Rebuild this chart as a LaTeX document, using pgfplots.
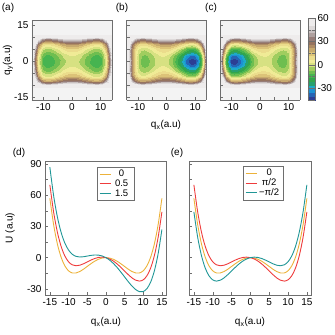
\documentclass[border=0pt]{standalone}
\usepackage{fontspec}
\setmainfont{Liberation Sans}
\usepackage{pgfplots}
\pgfplotsset{compat=1.18}
\usepackage{pgfplotstable}
\definecolor{cOr}{RGB}{236,178,58}
\definecolor{cRd}{RGB}{238,60,60}
\definecolor{cTl}{RGB}{32,150,150}
\definecolor{cFr}{RGB}{110,110,110}
\definecolor{cBg}{RGB}{243,243,243}
\pgfplotsset{colormap={pot}{
rgb255=(44,62,148)
rgb255=(38,100,180)
rgb255=(28,145,210)
rgb255=(30,170,200)
rgb255=(40,160,110)
rgb255=(50,165,75)
rgb255=(70,180,80)
rgb255=(110,190,80)
rgb255=(160,205,95)
rgb255=(215,225,130)
rgb255=(240,235,150)
rgb255=(235,220,140)
rgb255=(220,195,120)
rgb255=(200,170,110)
rgb255=(175,140,100)
rgb255=(150,115,95)
rgb255=(150,125,120)
rgb255=(175,160,158)
rgb255=(200,192,192)
rgb255=(222,218,218)
rgb255=(238,236,236)
rgb255=(238,236,236)
}}
% panel (a): x = 0..14, y = 0..11 (mirrored in x and y)
\pgfplotstableread[row sep=\\]{
x y z\\
0 0 0\\ 1 0 -0.4\\ 2 0 -1.6\\ 3 0 -3.5\\ 4 0 -5.9\\ 5 0 -8.5\\ 6 0 -11.2\\ 7 0 -13.4\\ 8 0 -14.8\\ 9 0 -14.8\\ 10 0 -12.7\\ 11 0 -6.5\\ 12 0 5\\ 13 0 30\\ 14 0 65\\
0 1 0.5\\ 1 1 0.1\\ 2 1 -1.1\\ 3 1 -3\\ 4 1 -5.4\\ 5 1 -8\\ 6 1 -10.7\\ 7 1 -12.9\\ 8 1 -14.3\\ 9 1 -14.3\\ 10 1 -12.2\\ 11 1 -6\\ 12 1 5.5\\ 13 1 30.5\\ 14 1 65.5\\
0 2 2\\ 1 2 1.6\\ 2 2 0.4\\ 3 2 -1.5\\ 4 2 -3.9\\ 5 2 -6.5\\ 6 2 -9.2\\ 7 2 -11.4\\ 8 2 -12.8\\ 9 2 -12.8\\ 10 2 -10.7\\ 11 2 -4.5\\ 12 2 7\\ 13 2 32\\ 14 2 67\\
0 3 4.3\\ 1 3 3.9\\ 2 3 2.7\\ 3 3 0.8\\ 4 3 -1.6\\ 5 3 -4.2\\ 6 3 -6.9\\ 7 3 -9.1\\ 8 3 -10.5\\ 9 3 -10.5\\ 10 3 -8.4\\ 11 3 -2.2\\ 12 3 9.3\\ 13 3 34.3\\ 14 3 69.3\\
0 4 7.5\\ 1 4 7.1\\ 2 4 5.9\\ 3 4 4\\ 4 4 1.6\\ 5 4 -1\\ 6 4 -3.7\\ 7 4 -5.9\\ 8 4 -7.3\\ 9 4 -7.3\\ 10 4 -5.2\\ 11 4 1\\ 12 4 12.5\\ 13 4 37.5\\ 14 4 72.5\\
0 5 11.5\\ 1 5 11.1\\ 2 5 9.9\\ 3 5 8\\ 4 5 5.6\\ 5 5 3\\ 6 5 0.3\\ 7 5 -1.9\\ 8 5 -3.3\\ 9 5 -3.3\\ 10 5 -1.2\\ 11 5 5\\ 12 5 16.5\\ 13 5 41.5\\ 14 5 76.5\\
0 6 16.5\\ 1 6 16.1\\ 2 6 14.9\\ 3 6 13\\ 4 6 10.6\\ 5 6 8\\ 6 6 5.3\\ 7 6 3.1\\ 8 6 1.7\\ 9 6 1.7\\ 10 6 3.8\\ 11 6 10\\ 12 6 21.5\\ 13 6 46.5\\ 14 6 81.5\\
0 7 24\\ 1 7 23.6\\ 2 7 22.4\\ 3 7 20.5\\ 4 7 18.1\\ 5 7 15.5\\ 6 7 12.8\\ 7 7 10.6\\ 8 7 9.2\\ 9 7 9.2\\ 10 7 11.3\\ 11 7 17.5\\ 12 7 29\\ 13 7 54\\ 14 7 89\\
0 8 35\\ 1 8 34.6\\ 2 8 33.4\\ 3 8 31.5\\ 4 8 29.1\\ 5 8 26.5\\ 6 8 23.8\\ 7 8 21.6\\ 8 8 20.2\\ 9 8 20.2\\ 10 8 22.3\\ 11 8 28.5\\ 12 8 40\\ 13 8 65\\ 14 8 100\\
0 9 50\\ 1 9 49.6\\ 2 9 48.4\\ 3 9 46.5\\ 4 9 44.1\\ 5 9 41.5\\ 6 9 38.8\\ 7 9 36.6\\ 8 9 35.2\\ 9 9 35.2\\ 10 9 37.3\\ 11 9 43.5\\ 12 9 55\\ 13 9 80\\ 14 9 115\\
0 10 70\\ 1 10 69.6\\ 2 10 68.4\\ 3 10 66.5\\ 4 10 64.1\\ 5 10 61.5\\ 6 10 58.8\\ 7 10 56.6\\ 8 10 55.2\\ 9 10 55.2\\ 10 10 57.3\\ 11 10 63.5\\ 12 10 75\\ 13 10 100\\ 14 10 135\\
0 11 95\\ 1 11 94.6\\ 2 11 93.4\\ 3 11 91.5\\ 4 11 89.1\\ 5 11 86.5\\ 6 11 83.8\\ 7 11 81.6\\ 8 11 80.2\\ 9 11 80.2\\ 10 11 82.3\\ 11 11 88.5\\ 12 11 100\\ 13 11 125\\ 14 11 160\\
}\tA
% panel (b): x = -14..14, y = 0..11 (mirrored in y); panel (c) is (b) mirrored in x
\pgfplotstableread[row sep=\\]{
x y z\\
-14 0 85\\ -13 0 50\\ -12 0 24.8\\ -11 0 8.6\\ -10 0 -1.6\\ -9 0 -7.1\\ -8 0 -9.2\\ -7 0 -8.8\\ -6 0 -7.0\\ -5 0 -4.5\\ -4 0 -2.0\\ -3 0 0.1\\ -2 0 1.3\\ -1 0 1.3\\ 0 0 0\\ 1 0 -2.7\\ 2 0 -6.7\\ 3 0 -11.9\\ 4 0 -18.0\\ 5 0 -24.5\\ 6 0 -31.0\\ 7 0 -36.8\\ 8 0 -41.2\\ 9 0 -43.1\\ 10 0 -41.6\\ 11 0 -33.0\\ 12 0 -15.0\\ 13 0 15.0\\ 14 0 55.0\\
-14 1 84.5\\ -13 1 49.5\\ -12 1 24.3\\ -11 1 8.3\\ -10 1 -1.7\\ -9 1 -7.0\\ -8 1 -9.0\\ -7 1 -8.5\\ -6 1 -6.7\\ -5 1 -4.2\\ -4 1 -1.7\\ -3 1 0.4\\ -2 1 1.7\\ -1 1 1.7\\ 0 1 0.5\\ 1 1 -2.1\\ 2 1 -5.9\\ 3 1 -11.0\\ 4 1 -16.9\\ 5 1 -23.2\\ 6 1 -29.5\\ 7 1 -35.1\\ 8 1 -39.4\\ 9 1 -41.2\\ 10 1 -39.7\\ 11 1 -31.2\\ 12 1 -13.5\\ 13 1 16.2\\ 14 1 56.0\\
-14 2 84\\ -13 2 49\\ -12 2 23.8\\ -11 2 8.3\\ -10 2 -1.3\\ -9 2 -6.3\\ -8 2 -8.0\\ -7 2 -7.5\\ -6 2 -5.6\\ -5 2 -3.1\\ -4 2 -0.6\\ -3 2 1.6\\ -2 2 2.9\\ -1 2 3.0\\ 0 2 2\\ 1 2 -0.4\\ 2 2 -3.9\\ 3 2 -8.6\\ 4 2 -14.2\\ 5 2 -20.1\\ 6 2 -26.0\\ 7 2 -31.3\\ 8 2 -35.2\\ 9 2 -36.9\\ 10 2 -35.3\\ 11 2 -27.0\\ 12 2 -10.0\\ 13 2 19.2\\ 14 2 58.5\\
-14 3 83.3\\ -13 3 48.3\\ -12 3 23.2\\ -11 3 8.4\\ -10 3 -0.6\\ -9 3 -5.1\\ -8 3 -6.6\\ -7 3 -5.9\\ -6 3 -4.0\\ -5 3 -1.4\\ -4 3 1.1\\ -3 3 3.3\\ -2 3 4.7\\ -1 3 5.1\\ 0 3 4.3\\ 1 3 2.3\\ 2 3 -0.9\\ 3 3 -5.1\\ 4 3 -10.1\\ 5 3 -15.4\\ 6 3 -20.8\\ 7 3 -25.5\\ 8 3 -29.0\\ 9 3 -30.3\\ 10 3 -28.6\\ 11 3 -20.8\\ 12 3 -4.7\\ 13 3 23.8\\ 14 3 62.3\\
-14 4 83.5\\ -13 4 48.5\\ -12 4 23.4\\ -11 4 9.3\\ -10 4 0.9\\ -9 4 -3.1\\ -8 4 -4.2\\ -7 4 -3.4\\ -6 4 -1.4\\ -5 4 1.2\\ -4 4 3.7\\ -3 4 6.0\\ -2 4 7.5\\ -1 4 8.0\\ 0 4 7.5\\ 1 4 5.8\\ 2 4 3.1\\ 3 4 -0.6\\ 4 4 -5.1\\ 5 4 -9.8\\ 6 4 -14.6\\ 7 4 -18.8\\ 8 4 -21.8\\ 9 4 -22.9\\ 10 4 -21.1\\ 11 4 -13.6\\ 12 4 1.5\\ 13 4 29.2\\ 14 4 67.0\\
-14 5 84.5\\ -13 5 49.5\\ -12 5 24.4\\ -11 5 11.0\\ -10 5 3.2\\ -9 5 -0.2\\ -8 5 -1.1\\ -7 5 -0.1\\ -6 5 2.0\\ -5 5 4.6\\ -4 5 7.2\\ -3 5 9.4\\ -2 5 11.1\\ -1 5 11.8\\ 0 5 11.5\\ 1 5 10.2\\ 2 5 7.9\\ 3 5 4.6\\ 4 5 0.8\\ 5 5 -3.4\\ 6 5 -7.6\\ 7 5 -11.3\\ 8 5 -13.9\\ 9 5 -14.6\\ 10 5 -12.8\\ 11 5 -5.6\\ 12 5 8.5\\ 13 5 35.5\\ 14 5 72.5\\
-14 6 86.9\\ -13 6 51.9\\ -12 6 26.8\\ -11 6 14.1\\ -10 6 6.8\\ -9 6 3.8\\ -8 6 3.2\\ -7 6 4.3\\ -6 6 6.4\\ -5 6 9.1\\ -4 6 11.7\\ -3 6 14.0\\ -2 6 15.7\\ -1 6 16.6\\ 0 6 16.5\\ 1 6 15.5\\ 2 6 13.5\\ 3 6 10.7\\ 4 6 7.3\\ 5 6 3.7\\ 6 6 0.0\\ 7 6 -3.2\\ 8 6 -5.4\\ 9 6 -5.9\\ 10 6 -4.0\\ 11 6 2.8\\ 12 6 16.1\\ 13 6 42.4\\ 14 6 78.8\\
-14 7 92\\ -13 7 57\\ -12 7 32\\ -11 7 19.8\\ -10 7 13.0\\ -9 7 10.4\\ -8 7 10.0\\ -7 7 11.3\\ -6 7 13.4\\ -5 7 16.1\\ -4 7 18.7\\ -3 7 21.0\\ -2 7 22.8\\ -1 7 23.9\\ 0 7 24\\ 1 7 23.3\\ 2 7 21.6\\ 3 7 19.2\\ 4 7 16.3\\ 5 7 13.1\\ 6 7 9.8\\ 7 7 7.1\\ 8 7 5.2\\ 9 7 5.0\\ 10 7 7.0\\ 11 7 13.5\\ 12 7 26\\ 13 7 51.7\\ 14 7 87.5\\
-14 8 101.4\\ -13 8 66.4\\ -12 8 41.4\\ -11 8 29.6\\ -10 8 23.1\\ -9 8 20.7\\ -8 8 20.6\\ -7 8 21.9\\ -6 8 24.1\\ -5 8 26.8\\ -4 8 29.4\\ -3 8 31.8\\ -2 8 33.6\\ -1 8 34.7\\ 0 8 35\\ 1 8 34.4\\ 2 8 33.0\\ 3 8 30.9\\ 4 8 28.3\\ 5 8 25.4\\ 6 8 22.4\\ 7 8 20.0\\ 8 8 18.4\\ 9 8 18.2\\ 10 8 20.3\\ 11 8 26.6\\ 12 8 38.6\\ 13 8 63.9\\ 14 8 99.3\\
-14 9 115.4\\ -13 9 80.4\\ -12 9 55.4\\ -11 9 43.8\\ -10 9 37.5\\ -9 9 35.4\\ -8 9 35.3\\ -7 9 36.7\\ -6 9 38.9\\ -5 9 41.6\\ -4 9 44.2\\ -3 9 46.6\\ -2 9 48.5\\ -1 9 49.6\\ 0 9 50\\ 1 9 49.6\\ 2 9 48.3\\ 3 9 46.3\\ 4 9 43.9\\ 5 9 41.2\\ 6 9 38.4\\ 7 9 36.1\\ 8 9 34.7\\ 9 9 34.6\\ 10 9 36.7\\ 11 9 43.0\\ 12 9 54.6\\ 13 9 79.7\\ 14 9 114.8\\
-14 10 135\\ -13 10 100\\ -12 10 75\\ -11 10 63.5\\ -10 10 57.3\\ -9 10 55.2\\ -8 10 55.2\\ -7 10 56.6\\ -6 10 58.8\\ -5 10 61.5\\ -4 10 64.1\\ -3 10 66.5\\ -2 10 68.4\\ -1 10 69.6\\ 0 10 70\\ 1 10 69.6\\ 2 10 68.4\\ 3 10 66.5\\ 4 10 64.1\\ 5 10 61.5\\ 6 10 58.8\\ 7 10 56.6\\ 8 10 55.2\\ 9 10 55.2\\ 10 10 57.3\\ 11 10 63.5\\ 12 10 75\\ 13 10 100\\ 14 10 135\\
-14 11 160\\ -13 11 125\\ -12 11 100\\ -11 11 88.5\\ -10 11 82.3\\ -9 11 80.2\\ -8 11 80.2\\ -7 11 81.6\\ -6 11 83.8\\ -5 11 86.5\\ -4 11 89.1\\ -3 11 91.5\\ -2 11 93.4\\ -1 11 94.6\\ 0 11 95\\ 1 11 94.6\\ 2 11 93.4\\ 3 11 91.5\\ 4 11 89.1\\ 5 11 86.5\\ 6 11 83.8\\ 7 11 81.6\\ 8 11 80.2\\ 9 11 80.2\\ 10 11 82.3\\ 11 11 88.5\\ 12 11 100\\ 13 11 125\\ 14 11 160\\
}\tB
\pgfplotsset{
 topax/.style={
  view={0}{90}, scale only axis, width=80pt, height=80pt, anchor=south west,
  xmin=-14, xmax=14, ymin=-16, ymax=17,
  colormap name=pot, point meta min=-45, point meta max=60,
  colormap access=piecewise constant,
  xtick={-10,0,10}, ytick={-15,0,15}, ztick=\empty,
  minor xtick={-5,5}, minor ytick={-10,-5,5,10},
  tick align=inside, tick pos=left,
  axis line style={cFr}, every tick/.style={cFr}, major tick length=3pt, minor tick length=3pt,
  axis background/.style={fill=cBg},
  /pgf/number format/assume math mode=true,
  tick label style={font=\fontsize{10}{12}\selectfont},
 },
 mapsurf/.style={surf, shader=interp, mesh/ordering=x varies},
 lineax/.style={
  scale only axis, anchor=south west, height=134pt,
  xmin=-16.3, xmax=16.1, ymin=-36, ymax=93,
  xtick={-15,-10,...,15}, ytick={-30,0,30,60,90}, minor ytick={-15,15,45,75},
  tick align=inside, tick pos=left,
  axis line style={cFr}, every tick/.style={cFr}, major tick length=3pt, minor tick length=3pt,
  /pgf/number format/assume math mode=true,
  tick label style={font=\fontsize{10}{12}\selectfont},
  legend style={draw=cFr, font=\fontsize{9.5}{10}\selectfont, inner xsep=2pt, inner ysep=1pt, row sep=-2.5pt, anchor=north west},
  legend cell align=center,
  legend image code/.code={\draw[#1, line width=0.9pt] (0pt,0pt) -- (11pt,0pt);},
 },
}
\begin{document}
\fontsize{10}{12}\selectfont
\begin{tikzpicture}
\useasboundingbox (0pt,0pt) rectangle (335pt,335pt);
% (a)
\begin{axis}[topax, at={(32pt,235pt)}]
\addplot3[mapsurf, mesh/cols=15] table[x=x,y=y,z=z] {\tA};
\addplot3[mapsurf, mesh/cols=15] table[x expr=-\thisrow{x},y=y,z=z] {\tA};
\addplot3[mapsurf, mesh/cols=15] table[x=x,y expr=-\thisrow{y},z=z] {\tA};
\addplot3[mapsurf, mesh/cols=15] table[x expr=-\thisrow{x},y expr=-\thisrow{y},z=z] {\tA};
\end{axis}
% (b)
\begin{axis}[topax, at={(126.5pt,235pt)}, yticklabels={}]
\addplot3[mapsurf, mesh/cols=29] table[x=x,y=y,z=z] {\tB};
\addplot3[mapsurf, mesh/cols=29] table[x=x,y expr=-\thisrow{y},z=z] {\tB};
\end{axis}
% (c)
\begin{axis}[topax, at={(220pt,235pt)}, yticklabels={},
  colorbar,
  colorbar style={at={(1.1,1.025)}, anchor=north west, scale only axis, width=7pt, height=82pt,
    ytick={-30,0,30,60}, minor ytick={-15,15,45}, axis line style={cFr}, every tick/.style={cFr},
    /pgf/number format/assume math mode=true,
    yticklabel style={font=\fontsize{10}{12}\selectfont, xshift=-1pt}}]
\addplot3[mapsurf, mesh/cols=29] table[x expr=-\thisrow{x},y=y,z=z] {\tB};
\addplot3[mapsurf, mesh/cols=29] table[x expr=-\thisrow{x},y expr=-\thisrow{y},z=z] {\tB};
\end{axis}
% (d)
\begin{axis}[lineax, at={(45pt,40pt)}, width=121pt, legend style={at={(0.43,0.955)}}]
\addplot[cOr, line width=0.9pt, smooth] coordinates {(-15,57.0) (-14,31.84) (-13,13.39) (-12,0.49) (-11,-7.90) (-10,-12.72) (-9,-14.78) (-8,-14.80) (-7,-13.42) (-6,-11.18) (-5,-8.53) (-4,-5.86) (-3,-3.47) (-2,-1.60) (-1,-0.41) (0,0) (1,-0.41) (2,-1.60) (3,-3.47) (4,-5.86) (5,-8.53) (6,-11.18) (7,-13.42) (8,-14.80) (9,-14.78) (10,-12.72) (11,-7.90) (12,0.49) (13,13.39) (14,31.84) (15,57.0)};
\addlegendentry{\makebox[17pt]{0}}
\addplot[cRd, line width=0.9pt, smooth] coordinates {(-15,70.05) (-14,44.02) (-13,24.70) (-12,10.93) (-11,1.67) (-10,-4.02) (-9,-6.95) (-8,-7.84) (-7,-7.33) (-6,-5.96) (-5,-4.18) (-4,-2.38) (-3,-0.86) (-2,0.14) (-1,0.46) (0,0) (1,-1.28) (2,-3.34) (3,-6.08) (4,-9.34) (5,-12.88) (6,-16.40) (7,-19.51) (8,-21.76) (9,-22.61) (10,-21.42) (11,-17.47) (12,-9.95) (13,2.08) (14,19.66) (15,43.95)};
\addlegendentry{\makebox[17pt]{0.5}}
\addplot[cTl, line width=0.9pt, smooth] coordinates {(-15,87.0) (-14,59.84) (-13,39.39) (-12,24.49) (-11,14.10) (-10,7.28) (-9,3.22) (-8,1.20) (-7,0.58) (-6,0.82) (-5,1.47) (-4,2.14) (-3,2.53) (-2,2.40) (-1,1.59) (0,0) (1,-2.41) (2,-5.60) (3,-9.47) (4,-13.86) (5,-18.53) (6,-23.18) (7,-27.42) (8,-30.80) (9,-32.78) (10,-32.72) (11,-29.90) (12,-23.51) (13,-12.61) (14,3.84) (15,27.0)};
\addlegendentry{\makebox[17pt]{1.5}}
\end{axis}
% (e)
\begin{axis}[lineax, at={(189pt,40pt)}, width=122pt, yticklabels={}, legend style={at={(0.443,0.963)}}]
\addplot[cOr, line width=0.9pt, smooth] coordinates {(-15,57.0) (-14,31.84) (-13,13.39) (-12,0.49) (-11,-7.90) (-10,-12.72) (-9,-14.78) (-8,-14.80) (-7,-13.42) (-6,-11.18) (-5,-8.53) (-4,-5.86) (-3,-3.47) (-2,-1.60) (-1,-0.41) (0,0) (1,-0.41) (2,-1.60) (3,-3.47) (4,-5.86) (5,-8.53) (6,-11.18) (7,-13.42) (8,-14.80) (9,-14.78) (10,-12.72) (11,-7.90) (12,0.49) (13,13.39) (14,31.84) (15,57.0)};
\addlegendentry{\makebox[20pt]{0}}
\addplot[cRd, line width=0.9pt, smooth] coordinates {(-15,70.05) (-14,44.02) (-13,24.70) (-12,10.93) (-11,1.67) (-10,-4.02) (-9,-6.95) (-8,-7.84) (-7,-7.33) (-6,-5.96) (-5,-4.18) (-4,-2.38) (-3,-0.86) (-2,0.14) (-1,0.46) (0,0) (1,-1.28) (2,-3.34) (3,-6.08) (4,-9.34) (5,-12.88) (6,-16.40) (7,-19.51) (8,-21.76) (9,-22.61) (10,-21.42) (11,-17.47) (12,-9.95) (13,2.08) (14,19.66) (15,43.95)};
\addlegendentry{\makebox[20pt]{π/2}}
\addplot[cTl, line width=0.9pt, smooth] coordinates {(-15,43.95) (-14,19.66) (-13,2.08) (-12,-9.95) (-11,-17.47) (-10,-21.42) (-9,-22.61) (-8,-21.76) (-7,-19.51) (-6,-16.40) (-5,-12.88) (-4,-9.34) (-3,-6.08) (-2,-3.34) (-1,-1.28) (0,0) (1,0.46) (2,0.14) (3,-0.86) (4,-2.38) (5,-4.18) (6,-5.96) (7,-7.33) (8,-7.84) (9,-6.95) (10,-4.02) (11,1.67) (12,10.93) (13,24.70) (14,44.02) (15,70.05)};
\addlegendentry{\makebox[20pt]{−π/2}}
\end{axis}
% labels
\node at (8pt,327pt) {(a)};
\node at (122pt,327pt) {(b)};
\node at (211pt,327pt) {(c)};
\node[rotate=90] at (8pt,275pt) {q\textsubscript{y}(a.u)};
\node at (166pt,210pt) {q\textsubscript{x}(a.u)};
\node at (19pt,182pt) {(d)};
\node at (177pt,182pt) {(e)};
\node[rotate=90] at (10pt,107pt) {U (a.u)};
\node at (106pt,13pt) {q\textsubscript{x}(a.u)};
\node at (250pt,13pt) {q\textsubscript{x}(a.u)};
\end{tikzpicture}
\end{document}
